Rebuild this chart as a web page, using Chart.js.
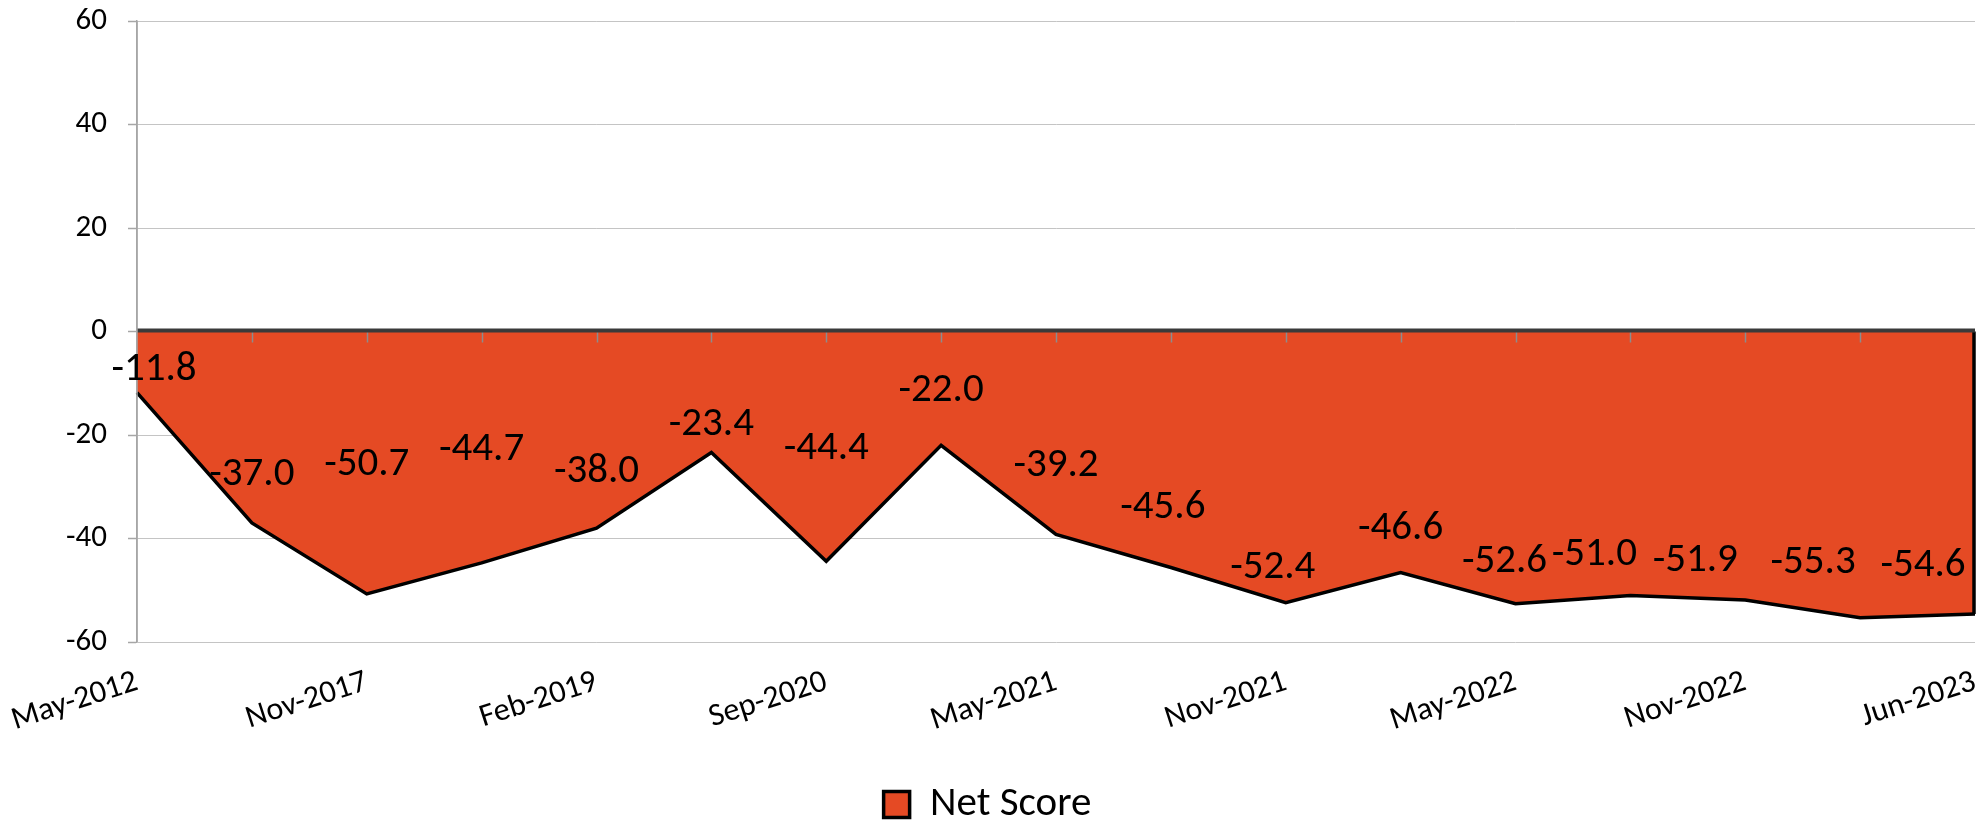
<!DOCTYPE html>
<html>
<head>
<meta charset="utf-8">
<title>Net Score</title>
<script src="https://cdn.jsdelivr.net/npm/chart.js@4.4.0/dist/chart.umd.min.js"></script>
<style>
    html, body { margin: 0; padding: 0; background: #fff; }
    #wrap { width: 1985px; height: 820px; }
</style>
</head>
<body>
<div id="wrap"><canvas id="netChart"></canvas></div>
<script>
// survey dates (only every other one is printed on the axis)
var categories = ['May-2012', 'Nov-2016', 'Nov-2017', 'Aug-2018', 'Feb-2019', 'Dec-2019',
    'Sep-2020', 'Feb-2021', 'May-2021', 'Aug-2021', 'Nov-2021', 'Feb-2022',
    'May-2022', 'Aug-2022', 'Nov-2022', 'Mar-2023', 'Jun-2023'];
var netScore = [-11.8, -37.0, -50.7, -44.7, -38.0, -23.4, -44.4, -22.0, -39.2,
    -45.6, -52.4, -46.6, -52.6, -51.0, -51.9, -55.3, -54.6];
var yTicks = [-60, -40, -20, 0, 20, 40, 60];

var FONT = 'Carlito, Lato, sans-serif';
var FILL = '#E54A24';

// how far each value label sits from its point (px), as placed in the original
var labelLift = [23, 48, 129, 113, 56, 28, 113, 55, 69, 60, 35, 44, 42, 41, 39, 55, 48];
var labelShift = [17, 0, 0, 0, 0, 0, 0, 0, 0, -8, -13, 0, -11, -36, -50, -47, -52];

var areaOutline = {
    id: 'areaOutline',
    afterDatasetsDraw: function(chart) {
        var ctx = chart.ctx;
        var x = chart.scales.x, y = chart.scales.y;
        var y0 = y.getPixelForValue(0);
        var xFirst = x.getPixelForValue(0);
        var xLast = x.getPixelForValue(netScore.length - 1);
        ctx.save();
        // category tick marks hang from the zero line
        ctx.strokeStyle = '#8c8c8c';
        ctx.lineWidth = 1.5;
        for (var i = 1; i < netScore.length - 1; i++) {
            var tx = Math.round(x.getPixelForValue(i)) + 0.5;
            ctx.beginPath();
            ctx.moveTo(tx, y0);
            ctx.lineTo(tx, y0 + 11);
            ctx.stroke();
        }
        // right edge of the area
        ctx.strokeStyle = '#000';
        ctx.lineWidth = 3.5;
        ctx.beginPath();
        ctx.moveTo(xLast - 1, y0);
        ctx.lineTo(xLast - 1, y.getPixelForValue(netScore[netScore.length - 1]));
        ctx.stroke();
        // zero line on top
        ctx.strokeStyle = '#3a3a3a';
        ctx.lineWidth = 4;
        ctx.beginPath();
        ctx.moveTo(xFirst, y0 - 1);
        ctx.lineTo(xLast, y0 - 1);
        ctx.stroke();
        // y axis line drawn again over the fill
        ctx.strokeStyle = '#a6a6a6';
        ctx.lineWidth = 1.5;
        ctx.beginPath();
        ctx.moveTo(xFirst, chart.chartArea.top);
        ctx.lineTo(xFirst, chart.chartArea.bottom);
        ctx.stroke();

        // value labels
        var meta = chart.getDatasetMeta(0);
        ctx.fillStyle = '#000';
        ctx.font = '41px ' + FONT;
        ctx.textAlign = 'center';
        ctx.textBaseline = 'middle';
        meta.data.forEach(function(pt, i) {
            ctx.fillText(netScore[i].toFixed(1), pt.x + labelShift[i], pt.y - labelLift[i]);
        });
        ctx.restore();
    }
};

var ctx = document.getElementById('netChart').getContext('2d');
var netChart = new Chart(ctx, {
    type: 'line',
    data: {
        labels: categories,
        datasets: [{
            label: 'Net Score',
            data: netScore,
            fill: 'origin',
            backgroundColor: FILL,
            borderColor: '#000',
            borderWidth: 3.5,
            pointRadius: 0,
            tension: 0
        }]
    },
    options: {
        responsive: true,
        maintainAspectRatio: false,
        animation: false,
        layout: { padding: { top: 21, right: 10, left: 0, bottom: -15 } },
        plugins: {
            tooltip: { enabled: false },
            legend: {
                position: 'bottom',
                labels: {
                    color: '#000',
                    font: { family: FONT, size: 41 },
                    boxWidth: 26,
                    boxHeight: 26,
                    padding: 0
                }
            }
        },
        scales: {
            x: {
                offset: false,
                grid: { display: false },
                border: { display: false },
                ticks: {
                    autoSkip: false,
                    minRotation: 18,
                    maxRotation: 18,
                    padding: 13,
                    color: '#000',
                    font: { family: FONT, size: 32 },
                    callback: function(val, i) {
                        return i % 2 === 0 ? categories[i] : '';
                    }
                },
                afterFit: function(scale) {
                    scale.height = 142;
                    scale.paddingLeft = 0;
                    scale.paddingRight = 0;
                }
            },
            y: {
                min: -60,
                max: 60,
                afterBuildTicks: function(scale) {
                    scale.ticks = yTicks.map(function(v) { return { value: v }; });
                },
                grid: {
                    color: '#c4c4c4',
                    lineWidth: 1,
                    borderDash: [3, 2],
                    tickColor: '#a6a6a6',
                    tickLength: 9,
                    tickBorderDash: [],
                    tickWidth: 1.5
                },
                border: { display: true, color: '#a6a6a6', width: 1.5 },
                ticks: {
                    padding: 21,
                    color: '#000',
                    font: { family: FONT, size: 31 }
                },
                afterFit: function(scale) {
                    scale.width = 137;
                    scale.paddingTop = 0;
                    scale.paddingBottom = 0;
                }
            }
        }
    },
    plugins: [areaOutline]
});
</script>
</body>
</html>
